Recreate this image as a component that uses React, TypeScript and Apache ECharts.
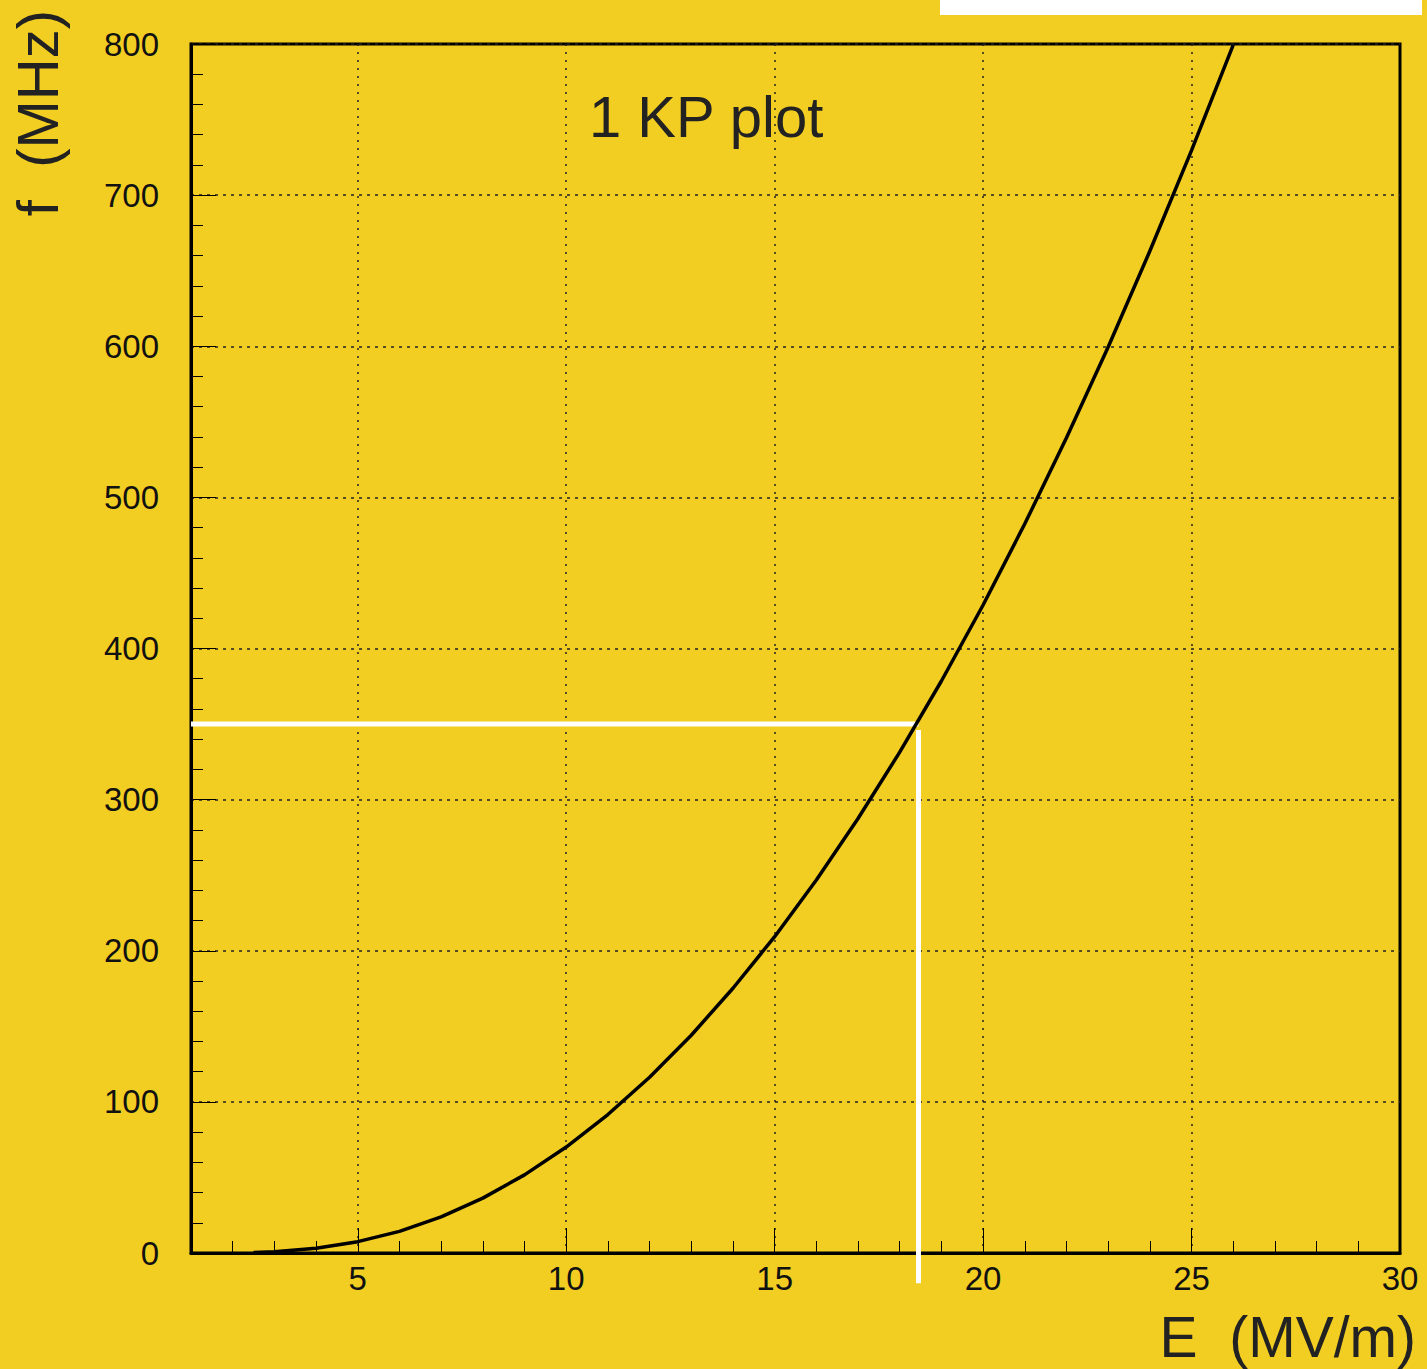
import React, { useEffect, useRef } from "react";
import * as echarts from "echarts";

// Kilpatrick curve: E (MV/m) vs f (MHz)
const fieldE = [2.5, 3, 4, 5, 6, 7, 8, 9, 10, 11, 12, 13, 14, 15, 16, 17, 18, 19, 20, 21, 22, 23, 24, 25, 26];
const freqF = [0.3, 0.9, 3.1, 7.5, 14.3, 23.9, 36.3, 51.7, 70.1, 91.6, 116.3, 144.1, 175.2, 209.3, 246.8, 287.5, 331.4, 378.5, 428.8, 482.5, 539.4, 599.5, 663.0, 729.6, 799.4];

const xMajorTicks = [5, 10, 15, 20, 25];
const xTickLabels = [5, 10, 15, 20, 25, 30];

const operatingFreq = 350;
const operatingField = 18.45;
const dropLineEnd = -20;
const dropLineStart = 346;

const titleText = "1 KP plot";
const xName = "E  (MV/m)";
const yName = "f  (MHz)";

export default function App() {
  const ref = useRef<HTMLDivElement>(null);
  useEffect(() => {
    document.body.style.margin = "0";
    const chart = echarts.init(ref.current!, null, { renderer: "svg" });
    const font = "Liberation Sans";
    const labelStyle = { fontFamily: font, fontSize: 33, color: "#111" };
    chart.setOption({
      animation: false,
      backgroundColor: "#F2CD22",
      grid: {
        left: 191,
        right: 27,
        top: 44,
        bottom: 116,
        show: true,
        borderColor: "#000",
        borderWidth: 3,
        backgroundColor: "transparent",
      },
      xAxis: [
        {
          type: "value",
          min: 1,
          max: 30,
          interval: 1,
          position: "bottom",
          axisLine: { show: true, lineStyle: { color: "#000", width: 3 } },
          axisTick: { show: true, inside: true, length: 12, lineStyle: { color: "#000", width: 1 } },
          axisLabel: { show: false },
          splitLine: { show: false },
        },
        {
          type: "value",
          min: 1,
          max: 30,
          position: "bottom",
          offset: 0,
          axisLine: { show: false },
          axisTick: {
            show: true,
            inside: true,
            length: 25,
            customValues: xMajorTicks,
            lineStyle: { color: "#000", width: 1 },
          },
          axisLabel: { show: true, customValues: xTickLabels, margin: 9, ...labelStyle },
          splitLine: { show: true, lineStyle: { color: "#222", width: 1.5, type: [2, 6] } },
        },
      ],
      yAxis: [
        {
          type: "value",
          min: 0,
          max: 800,
          interval: 20,
          position: "left",
          axisLine: { show: true, lineStyle: { color: "#000", width: 3 } },
          axisTick: { show: true, inside: true, length: 12, lineStyle: { color: "#000", width: 1 } },
          axisLabel: { show: false },
          splitLine: { show: false },
        },
        {
          type: "value",
          min: 0,
          max: 800,
          interval: 100,
          position: "left",
          offset: 0,
          axisLine: { show: false },
          axisTick: { show: true, inside: true, length: 25, lineStyle: { color: "#000", width: 1 } },
          axisLabel: { show: true, margin: 32, ...labelStyle },
          splitLine: { show: true, lineStyle: { color: "#222", width: 1.5, type: [3, 5] } },
        },
      ],
      series: [
        {
          type: "line",
          xAxisIndex: 0,
          yAxisIndex: 0,
          data: [
            [1, operatingFreq],
            [operatingField, operatingFreq],
          ],
          symbol: "none",
          lineStyle: { color: "#fff", width: 5 },
          clip: false,
          z: 3,
        },
        {
          type: "line",
          xAxisIndex: 0,
          yAxisIndex: 0,
          data: [
            [operatingField, dropLineStart],
            [operatingField, dropLineEnd],
          ],
          symbol: "none",
          lineStyle: { color: "#fff", width: 5 },
          clip: false,
          z: 3,
        },
        {
          type: "line",
          xAxisIndex: 0,
          yAxisIndex: 0,
          data: fieldE.map((e, i) => [e, freqF[i]]),
          symbol: "none",
          smooth: false,
          lineStyle: { color: "#000", width: 3.5 },
          z: 4,
        },
      ],
      graphic: [
        { type: "rect", shape: { x: 940, y: 0, width: 482, height: 15 }, style: { fill: "#fff" } },
        {
          type: "text",
          x: 589,
          y: 116,
          style: { text: titleText, fontFamily: font, fontSize: 58, fill: "#222", align: "left", verticalAlign: "middle" },
        },
        {
          type: "text",
          x: 1416,
          y: 1337,
          style: { text: xName, fontFamily: font, fontSize: 57, fill: "#222", align: "right", verticalAlign: "middle" },
        },
        {
          type: "text",
          x: 37,
          y: 10,
          rotation: Math.PI / 2,
          style: { text: yName, fontFamily: font, fontSize: 58, fill: "#222", align: "right", verticalAlign: "middle" },
        },
      ],
    });
    return () => chart.dispose();
  }, []);
  return <div ref={ref} style={{ width: 1427, height: 1369 }} />;
}
